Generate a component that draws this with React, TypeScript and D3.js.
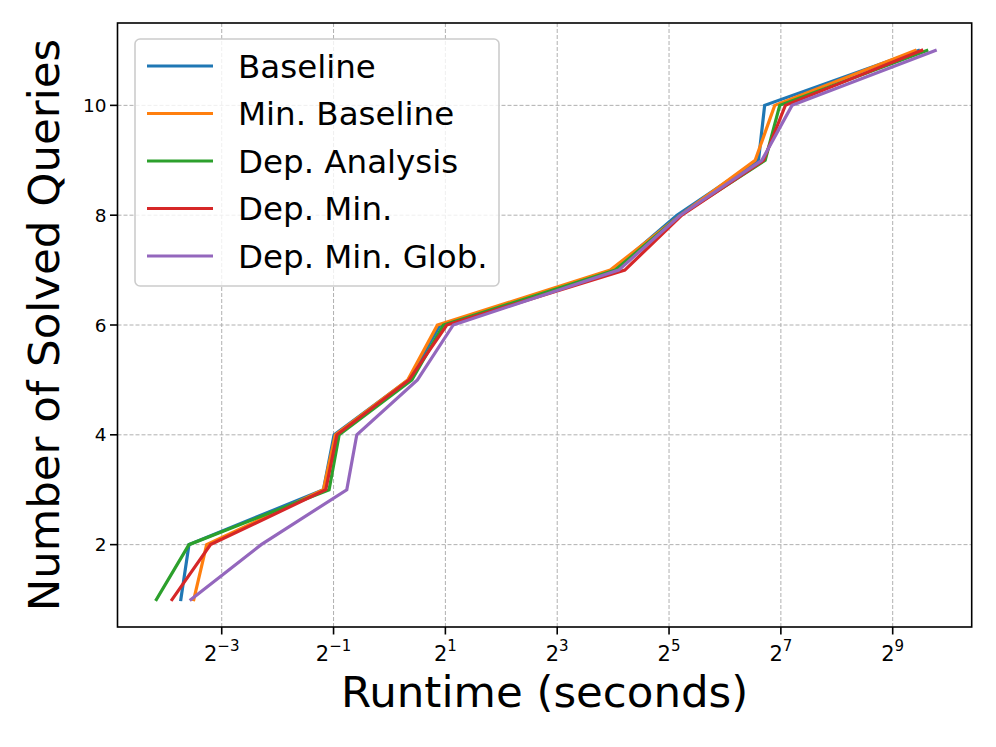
import React from "react";
import * as d3 from "d3";

const queries = [1, 2, 3, 4, 5, 6, 7, 8, 9, 10, 11];
const baseline = [0.0753, 0.0833, 0.441, 0.503, 1.266, 1.873, 16.0, 35.3, 97.0, 104.7, 704];
const minBaseline = [0.0884, 0.1037, 0.441, 0.511, 1.254, 1.811, 15.45, 36.8, 93.1, 118.6, 675.6];
const depAnalysis = [0.0556, 0.0833, 0.473, 0.536, 1.32, 1.951, 16.45, 36.8, 105.4, 126.2, 781];
const depMin = [0.0675, 0.1088, 0.454, 0.521, 1.275, 2.035, 18.5, 37.5, 103.3, 135.3, 734];
const depMinGlob = [0.0854, 0.2039, 0.589, 0.667, 1.414, 2.204, 17.15, 36.8, 101.1, 147.0, 867];

const seriesNames = ["Baseline", "Min. Baseline", "Dep. Analysis", "Dep. Min.", "Dep. Min. Glob."];
const seriesValues = [baseline, minBaseline, depAnalysis, depMin, depMinGlob];
const colors = ["#1f77b4", "#ff7f0e", "#2ca02c", "#d62728", "#9467bd"];
const xTickExps = [-3, -1, 1, 3, 5, 7, 9];
const yTicks = [2, 4, 6, 8, 10];

const W = 996, H = 747;
const left = 117.5, right = 971.7, top = 23, bottom = 627;
const font = "DejaVu Sans, sans-serif";

export default function App() {
  const x = d3.scaleLog().base(2).domain([Math.pow(2, -4.864), Math.pow(2, 10.413)]).range([left, right]);
  const y = d3.scaleLinear().domain([0.5, 11.5]).range([bottom, top]);
  const line = d3.line<[number, number]>().x(d => x(d[0])).y(d => y(d[1]));

  const legX = 135, legY = 39, legW = 364, legH = 247;
  const rowY = (i: number) => 66 + i * 47.5;

  return (
    <svg width={W} height={H} style={{ position: "absolute", left: 0, top: 0, background: "#fff" }}>
      <rect x={0} y={0} width={W} height={H} fill="#fff" />
      {/* grid */}
      {xTickExps.map(e => (
        <line key={"gx" + e} x1={x(Math.pow(2, e))} x2={x(Math.pow(2, e))} y1={top} y2={bottom}
          stroke="#b0b0b0" strokeWidth={1} strokeDasharray="4,2" />
      ))}
      {yTicks.map(t => (
        <line key={"gy" + t} x1={left} x2={right} y1={y(t)} y2={y(t)}
          stroke="#b0b0b0" strokeWidth={1} strokeDasharray="4,2" />
      ))}
      {/* lines */}
      {seriesValues.map((vals, i) => (
        <path key={seriesNames[i]} d={line(vals.map((v, j) => [v, queries[j]] as [number, number])) || ""}
          fill="none" stroke={colors[i]} strokeWidth={3.2} strokeLinejoin="miter" strokeLinecap="square" />
      ))}
      {/* spines */}
      <rect x={left} y={top} width={right - left} height={bottom - top} fill="none" stroke="#000" strokeWidth={1.6} />
      {/* x ticks */}
      {xTickExps.map(e => {
        const px = x(Math.pow(2, e));
        const label = e < 0 ? "\u2212" + Math.abs(e) : String(e);
        return (
          <g key={"xt" + e}>
            <line x1={px} x2={px} y1={bottom} y2={bottom + 7.5} stroke="#000" strokeWidth={1.6} />
            <text x={px} y={bottom + 34} textAnchor="middle" fontFamily={font} fontSize={21} fill="#000">
              <tspan>2</tspan>
              <tspan dy={-10} fontSize={15}>{label}</tspan>
            </text>
          </g>
        );
      })}
      {/* y ticks */}
      {yTicks.map(t => (
        <g key={"yt" + t}>
          <line x1={left - 7.5} x2={left} y1={y(t)} y2={y(t)} stroke="#000" strokeWidth={1.6} />
          <text x={left - 11} y={y(t)} dy="0.36em" textAnchor="end" fontFamily={font} fontSize={18.5} fill="#000">{t}</text>
        </g>
      ))}
      {/* axis labels */}
      <text x={(left + right) / 2} y={707} textAnchor="middle" fontFamily={font} fontSize={43.5} fill="#000">Runtime (seconds)</text>
      <text transform={`translate(59, ${(top + bottom) / 2}) rotate(-90)`} textAnchor="middle" fontFamily={font} fontSize={43.5} fill="#000">Number of Solved Queries</text>
      {/* legend */}
      <rect x={legX} y={legY} width={legW} height={legH} rx={5} ry={5} fill="#fff" fillOpacity={0.8} stroke="#cccccc" strokeWidth={1.6} />
      {seriesNames.map((n, i) => (
        <g key={"lg" + n}>
          <line x1={147} x2={213} y1={rowY(i)} y2={rowY(i)} stroke={colors[i]} strokeWidth={3.2} />
          <text x={238} y={rowY(i)} dy="0.36em" fontFamily={font} fontSize={32.5} fill="#000">{n}</text>
        </g>
      ))}
    </svg>
  );
}
